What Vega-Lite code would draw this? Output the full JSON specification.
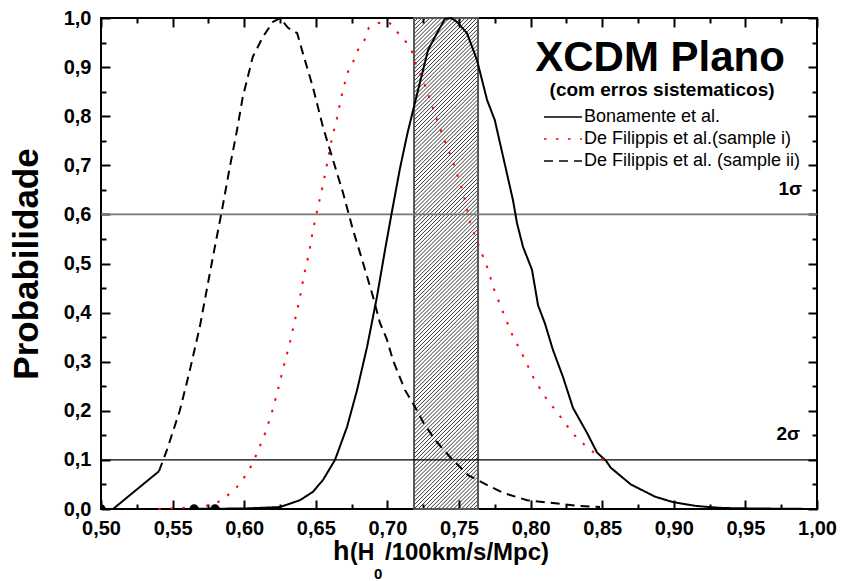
{
  "$schema": "https://vega.github.io/schema/vega-lite/v6.json",
  "width": 716,
  "height": 491,
  "autosize": {"type": "none"},
  "padding": {"left": 101, "top": 18, "right": 25, "bottom": 72},
  "background": "white",
  "config": {
    "view": {"stroke": "black", "strokeWidth": 2},
    "font": "Liberation Sans",
    "axis": {"grid": false, "domain": false, "ticks": true, "tickColor": "black", "tickOpacity": 1, "tickWidth": 2, "labelFont": "Liberation Sans", "labelFontWeight": "bold", "labelFontSize": 20, "labelColor": "black", "titleColor": "black", "zindex": 2}
  },
  "datasets": {
    "curves": [
      {"h": 0.55, "p": 0, "s": "Bonamente et al."},
      {"h": 0.60, "p": 0.001, "s": "Bonamente et al."},
      {"h": 0.625, "p": 0.004, "s": "Bonamente et al."},
      {"h": 0.639, "p": 0.018, "s": "Bonamente et al."},
      {"h": 0.648, "p": 0.035, "s": "Bonamente et al."},
      {"h": 0.655, "p": 0.059, "s": "Bonamente et al."},
      {"h": 0.6634, "p": 0.1, "s": "Bonamente et al."},
      {"h": 0.6718, "p": 0.167, "s": "Bonamente et al."},
      {"h": 0.6788, "p": 0.242, "s": "Bonamente et al."},
      {"h": 0.6858, "p": 0.33, "s": "Bonamente et al."},
      {"h": 0.6927, "p": 0.432, "s": "Bonamente et al."},
      {"h": 0.6983, "p": 0.527, "s": "Bonamente et al."},
      {"h": 0.703, "p": 0.603, "s": "Bonamente et al."},
      {"h": 0.7088, "p": 0.694, "s": "Bonamente et al."},
      {"h": 0.714, "p": 0.765, "s": "Bonamente et al."},
      {"h": 0.718, "p": 0.813, "s": "Bonamente et al."},
      {"h": 0.7214, "p": 0.853, "s": "Bonamente et al."},
      {"h": 0.7284, "p": 0.935, "s": "Bonamente et al."},
      {"h": 0.7346, "p": 0.969, "s": "Bonamente et al."},
      {"h": 0.7402, "p": 0.998, "s": "Bonamente et al."},
      {"h": 0.7445, "p": 1.0, "s": "Bonamente et al."},
      {"h": 0.7486, "p": 0.992, "s": "Bonamente et al."},
      {"h": 0.7556, "p": 0.969, "s": "Bonamente et al."},
      {"h": 0.7626, "p": 0.914, "s": "Bonamente et al."},
      {"h": 0.7696, "p": 0.833, "s": "Bonamente et al."},
      {"h": 0.775, "p": 0.792, "s": "Bonamente et al."},
      {"h": 0.7877, "p": 0.629, "s": "Bonamente et al."},
      {"h": 0.7905, "p": 0.582, "s": "Bonamente et al."},
      {"h": 0.7947, "p": 0.534, "s": "Bonamente et al."},
      {"h": 0.801, "p": 0.487, "s": "Bonamente et al."},
      {"h": 0.8052, "p": 0.415, "s": "Bonamente et al."},
      {"h": 0.810, "p": 0.378, "s": "Bonamente et al."},
      {"h": 0.8156, "p": 0.324, "s": "Bonamente et al."},
      {"h": 0.8226, "p": 0.269, "s": "Bonamente et al."},
      {"h": 0.8296, "p": 0.206, "s": "Bonamente et al."},
      {"h": 0.8394, "p": 0.155, "s": "Bonamente et al."},
      {"h": 0.8464, "p": 0.115, "s": "Bonamente et al."},
      {"h": 0.8527, "p": 0.098, "s": "Bonamente et al."},
      {"h": 0.856, "p": 0.084, "s": "Bonamente et al."},
      {"h": 0.870, "p": 0.05, "s": "Bonamente et al."},
      {"h": 0.887, "p": 0.025, "s": "Bonamente et al."},
      {"h": 0.8994, "p": 0.014, "s": "Bonamente et al."},
      {"h": 0.916, "p": 0.006, "s": "Bonamente et al."},
      {"h": 0.934, "p": 0.002, "s": "Bonamente et al."},
      {"h": 0.958, "p": 0.001, "s": "Bonamente et al."},
      {"h": 1.0, "p": 0, "s": "Bonamente et al."},
      {"h": 0.54, "p": 0, "s": "De Filippis et al.(sample i)"},
      {"h": 0.556, "p": 0.002, "s": "De Filippis et al.(sample i)"},
      {"h": 0.571, "p": 0.005, "s": "De Filippis et al.(sample i)"},
      {"h": 0.5796, "p": 0.01, "s": "De Filippis et al.(sample i)"},
      {"h": 0.587, "p": 0.024, "s": "De Filippis et al.(sample i)"},
      {"h": 0.595, "p": 0.045, "s": "De Filippis et al.(sample i)"},
      {"h": 0.6006, "p": 0.067, "s": "De Filippis et al.(sample i)"},
      {"h": 0.6054, "p": 0.09, "s": "De Filippis et al.(sample i)"},
      {"h": 0.609, "p": 0.114, "s": "De Filippis et al.(sample i)"},
      {"h": 0.615, "p": 0.157, "s": "De Filippis et al.(sample i)"},
      {"h": 0.620, "p": 0.203, "s": "De Filippis et al.(sample i)"},
      {"h": 0.624, "p": 0.248, "s": "De Filippis et al.(sample i)"},
      {"h": 0.628, "p": 0.295, "s": "De Filippis et al.(sample i)"},
      {"h": 0.632, "p": 0.340, "s": "De Filippis et al.(sample i)"},
      {"h": 0.6355, "p": 0.385, "s": "De Filippis et al.(sample i)"},
      {"h": 0.639, "p": 0.432, "s": "De Filippis et al.(sample i)"},
      {"h": 0.6418, "p": 0.477, "s": "De Filippis et al.(sample i)"},
      {"h": 0.6453, "p": 0.521, "s": "De Filippis et al.(sample i)"},
      {"h": 0.648, "p": 0.568, "s": "De Filippis et al.(sample i)"},
      {"h": 0.6515, "p": 0.615, "s": "De Filippis et al.(sample i)"},
      {"h": 0.655, "p": 0.66, "s": "De Filippis et al.(sample i)"},
      {"h": 0.658, "p": 0.705, "s": "De Filippis et al.(sample i)"},
      {"h": 0.661, "p": 0.751, "s": "De Filippis et al.(sample i)"},
      {"h": 0.6648, "p": 0.796, "s": "De Filippis et al.(sample i)"},
      {"h": 0.668, "p": 0.841, "s": "De Filippis et al.(sample i)"},
      {"h": 0.672, "p": 0.888, "s": "De Filippis et al.(sample i)"},
      {"h": 0.676, "p": 0.91, "s": "De Filippis et al.(sample i)"},
      {"h": 0.679, "p": 0.933, "s": "De Filippis et al.(sample i)"},
      {"h": 0.684, "p": 0.955, "s": "De Filippis et al.(sample i)"},
      {"h": 0.687, "p": 0.98, "s": "De Filippis et al.(sample i)"},
      {"h": 0.694, "p": 0.99, "s": "De Filippis et al.(sample i)"},
      {"h": 0.701, "p": 0.992, "s": "De Filippis et al.(sample i)"},
      {"h": 0.707, "p": 0.971, "s": "De Filippis et al.(sample i)"},
      {"h": 0.7137, "p": 0.949, "s": "De Filippis et al.(sample i)"},
      {"h": 0.7178, "p": 0.928, "s": "De Filippis et al.(sample i)"},
      {"h": 0.72, "p": 0.904, "s": "De Filippis et al.(sample i)"},
      {"h": 0.724, "p": 0.88, "s": "De Filippis et al.(sample i)"},
      {"h": 0.7297, "p": 0.835, "s": "De Filippis et al.(sample i)"},
      {"h": 0.735, "p": 0.789, "s": "De Filippis et al.(sample i)"},
      {"h": 0.741, "p": 0.743, "s": "De Filippis et al.(sample i)"},
      {"h": 0.747, "p": 0.697, "s": "De Filippis et al.(sample i)"},
      {"h": 0.7528, "p": 0.645, "s": "De Filippis et al.(sample i)"},
      {"h": 0.7577, "p": 0.584, "s": "De Filippis et al.(sample i)"},
      {"h": 0.7633, "p": 0.54, "s": "De Filippis et al.(sample i)"},
      {"h": 0.7696, "p": 0.493, "s": "De Filippis et al.(sample i)"},
      {"h": 0.7744, "p": 0.448, "s": "De Filippis et al.(sample i)"},
      {"h": 0.7807, "p": 0.401, "s": "De Filippis et al.(sample i)"},
      {"h": 0.787, "p": 0.356, "s": "De Filippis et al.(sample i)"},
      {"h": 0.7947, "p": 0.312, "s": "De Filippis et al.(sample i)"},
      {"h": 0.8024, "p": 0.265, "s": "De Filippis et al.(sample i)"},
      {"h": 0.812, "p": 0.22, "s": "De Filippis et al.(sample i)"},
      {"h": 0.8184, "p": 0.198, "s": "De Filippis et al.(sample i)"},
      {"h": 0.824, "p": 0.175, "s": "De Filippis et al.(sample i)"},
      {"h": 0.830, "p": 0.152, "s": "De Filippis et al.(sample i)"},
      {"h": 0.8387, "p": 0.128, "s": "De Filippis et al.(sample i)"},
      {"h": 0.8464, "p": 0.11, "s": "De Filippis et al.(sample i)"},
      {"h": 0.851, "p": 0.1, "s": "De Filippis et al.(sample i)"},
      {"h": 0.5405, "p": 0.077, "s": "De Filippis et al. (sample ii)"},
      {"h": 0.546, "p": 0.12, "s": "De Filippis et al. (sample ii)"},
      {"h": 0.555, "p": 0.20, "s": "De Filippis et al. (sample ii)"},
      {"h": 0.5616, "p": 0.277, "s": "De Filippis et al. (sample ii)"},
      {"h": 0.569, "p": 0.371, "s": "De Filippis et al. (sample ii)"},
      {"h": 0.578, "p": 0.511, "s": "De Filippis et al. (sample ii)"},
      {"h": 0.5845, "p": 0.609, "s": "De Filippis et al. (sample ii)"},
      {"h": 0.590, "p": 0.697, "s": "De Filippis et al. (sample ii)"},
      {"h": 0.595, "p": 0.772, "s": "De Filippis et al. (sample ii)"},
      {"h": 0.599, "p": 0.839, "s": "De Filippis et al. (sample ii)"},
      {"h": 0.606, "p": 0.921, "s": "De Filippis et al. (sample ii)"},
      {"h": 0.613, "p": 0.961, "s": "De Filippis et al. (sample ii)"},
      {"h": 0.620, "p": 0.992, "s": "De Filippis et al. (sample ii)"},
      {"h": 0.625, "p": 1.0, "s": "De Filippis et al. (sample ii)"},
      {"h": 0.6306, "p": 0.98, "s": "De Filippis et al. (sample ii)"},
      {"h": 0.637, "p": 0.969, "s": "De Filippis et al. (sample ii)"},
      {"h": 0.641, "p": 0.928, "s": "De Filippis et al. (sample ii)"},
      {"h": 0.648, "p": 0.859, "s": "De Filippis et al. (sample ii)"},
      {"h": 0.655, "p": 0.778, "s": "De Filippis et al. (sample ii)"},
      {"h": 0.662, "p": 0.711, "s": "De Filippis et al. (sample ii)"},
      {"h": 0.669, "p": 0.644, "s": "De Filippis et al. (sample ii)"},
      {"h": 0.676, "p": 0.568, "s": "De Filippis et al. (sample ii)"},
      {"h": 0.682, "p": 0.511, "s": "De Filippis et al. (sample ii)"},
      {"h": 0.690, "p": 0.432, "s": "De Filippis et al. (sample ii)"},
      {"h": 0.6948, "p": 0.379, "s": "De Filippis et al. (sample ii)"},
      {"h": 0.6997, "p": 0.345, "s": "De Filippis et al. (sample ii)"},
      {"h": 0.7039, "p": 0.303, "s": "De Filippis et al. (sample ii)"},
      {"h": 0.7123, "p": 0.242, "s": "De Filippis et al. (sample ii)"},
      {"h": 0.7193, "p": 0.208, "s": "De Filippis et al. (sample ii)"},
      {"h": 0.7249, "p": 0.177, "s": "De Filippis et al. (sample ii)"},
      {"h": 0.7332, "p": 0.141, "s": "De Filippis et al. (sample ii)"},
      {"h": 0.7437, "p": 0.106, "s": "De Filippis et al. (sample ii)"},
      {"h": 0.7563, "p": 0.069, "s": "De Filippis et al. (sample ii)"},
      {"h": 0.7668, "p": 0.053, "s": "De Filippis et al. (sample ii)"},
      {"h": 0.7807, "p": 0.033, "s": "De Filippis et al. (sample ii)"},
      {"h": 0.7975, "p": 0.018, "s": "De Filippis et al. (sample ii)"},
      {"h": 0.8156, "p": 0.012, "s": "De Filippis et al. (sample ii)"},
      {"h": 0.8345, "p": 0.006, "s": "De Filippis et al. (sample ii)"},
      {"h": 0.8485, "p": 0.004, "s": "De Filippis et al. (sample ii)"}
    ],
    "seg": [{"h": 0.5084, "p": 0}, {"h": 0.5405, "p": 0.077}],
    "dots": [{"h": 0.5}, {"h": 0.565}, {"h": 0.5796}],
    "hatch": [
      {"a":-0.128,"b":0.002},{"a":-0.12,"b":0.01},{"a":-0.112,"b":0.018},{"a":-0.104,"b":0.026},{"a":-0.096,"b":0.034},{"a":-0.088,"b":0.042},{"a":-0.08,"b":0.05},{"a":-0.072,"b":0.058},{"a":-0.064,"b":0.066},{"a":-0.056,"b":0.074},{"a":-0.048,"b":0.082},{"a":-0.04,"b":0.09},{"a":-0.032,"b":0.098},{"a":-0.024,"b":0.106},{"a":-0.016,"b":0.114},{"a":-0.008,"b":0.122},
      {"a":0,"b":0.13},{"a":0.008,"b":0.138},{"a":0.016,"b":0.146},{"a":0.024,"b":0.154},{"a":0.032,"b":0.162},{"a":0.04,"b":0.17},{"a":0.048,"b":0.178},{"a":0.056,"b":0.186},{"a":0.064,"b":0.194},{"a":0.072,"b":0.202},{"a":0.08,"b":0.21},{"a":0.088,"b":0.218},{"a":0.096,"b":0.226},{"a":0.104,"b":0.234},{"a":0.112,"b":0.242},{"a":0.12,"b":0.25},
      {"a":0.128,"b":0.258},{"a":0.136,"b":0.266},{"a":0.144,"b":0.274},{"a":0.152,"b":0.282},{"a":0.16,"b":0.29},{"a":0.168,"b":0.298},{"a":0.176,"b":0.306},{"a":0.184,"b":0.314},{"a":0.192,"b":0.322},{"a":0.2,"b":0.33},{"a":0.208,"b":0.338},{"a":0.216,"b":0.346},{"a":0.224,"b":0.354},{"a":0.232,"b":0.362},{"a":0.24,"b":0.37},{"a":0.248,"b":0.378},
      {"a":0.256,"b":0.386},{"a":0.264,"b":0.394},{"a":0.272,"b":0.402},{"a":0.28,"b":0.41},{"a":0.288,"b":0.418},{"a":0.296,"b":0.426},{"a":0.304,"b":0.434},{"a":0.312,"b":0.442},{"a":0.32,"b":0.45},{"a":0.328,"b":0.458},{"a":0.336,"b":0.466},{"a":0.344,"b":0.474},{"a":0.352,"b":0.482},{"a":0.36,"b":0.49},{"a":0.368,"b":0.498},{"a":0.376,"b":0.506},
      {"a":0.384,"b":0.514},{"a":0.392,"b":0.522},{"a":0.4,"b":0.53},{"a":0.408,"b":0.538},{"a":0.416,"b":0.546},{"a":0.424,"b":0.554},{"a":0.432,"b":0.562},{"a":0.44,"b":0.57},{"a":0.448,"b":0.578},{"a":0.456,"b":0.586},{"a":0.464,"b":0.594},{"a":0.472,"b":0.602},{"a":0.48,"b":0.61},{"a":0.488,"b":0.618},{"a":0.496,"b":0.626},{"a":0.504,"b":0.634},
      {"a":0.512,"b":0.642},{"a":0.52,"b":0.65},{"a":0.528,"b":0.658},{"a":0.536,"b":0.666},{"a":0.544,"b":0.674},{"a":0.552,"b":0.682},{"a":0.56,"b":0.69},{"a":0.568,"b":0.698},{"a":0.576,"b":0.706},{"a":0.584,"b":0.714},{"a":0.592,"b":0.722},{"a":0.6,"b":0.73},{"a":0.608,"b":0.738},{"a":0.616,"b":0.746},{"a":0.624,"b":0.754},{"a":0.632,"b":0.762},
      {"a":0.64,"b":0.77},{"a":0.648,"b":0.778},{"a":0.656,"b":0.786},{"a":0.664,"b":0.794},{"a":0.672,"b":0.802},{"a":0.68,"b":0.81},{"a":0.688,"b":0.818},{"a":0.696,"b":0.826},{"a":0.704,"b":0.834},{"a":0.712,"b":0.842},{"a":0.72,"b":0.85},{"a":0.728,"b":0.858},{"a":0.736,"b":0.866},{"a":0.744,"b":0.874},{"a":0.752,"b":0.882},{"a":0.76,"b":0.89},
      {"a":0.768,"b":0.898},{"a":0.776,"b":0.906},{"a":0.784,"b":0.914},{"a":0.792,"b":0.922},{"a":0.8,"b":0.93},{"a":0.808,"b":0.938},{"a":0.816,"b":0.946},{"a":0.824,"b":0.954},{"a":0.832,"b":0.962},{"a":0.84,"b":0.97},{"a":0.848,"b":0.978},{"a":0.856,"b":0.986},{"a":0.864,"b":0.994},{"a":0.872,"b":1.002},{"a":0.88,"b":1.01},{"a":0.888,"b":1.018},
      {"a":0.896,"b":1.026},{"a":0.904,"b":1.034},{"a":0.912,"b":1.042},{"a":0.92,"b":1.05},{"a":0.928,"b":1.058},{"a":0.936,"b":1.066},{"a":0.944,"b":1.074},{"a":0.952,"b":1.082},{"a":0.96,"b":1.09},{"a":0.968,"b":1.098},{"a":0.976,"b":1.106},{"a":0.984,"b":1.114},{"a":0.992,"b":1.122},{"a":1.0,"b":1.13}
    ]
  },
  "resolve": {"axis": {"x": "independent", "y": "independent"}},
  "layer": [
    {
      "data": {"name": "hatch"},
      "mark": {"type": "rule", "clip": true, "stroke": "black", "strokeWidth": 0.8},
      "encoding": {
        "x": {"datum": 0.7186, "type": "quantitative", "scale": {"domain": [0.5, 1], "nice": false, "zero": false},
              "axis": {"orient": "top", "values": [0.525,0.575,0.625,0.675,0.725,0.775,0.825,0.875,0.925,0.975], "tickSize": -5, "labels": false, "title": null}},
        "x2": {"datum": 0.7633},
        "y": {"field": "a", "type": "quantitative", "scale": {"domain": [0, 1], "nice": false, "zero": false},
              "axis": {"orient": "right", "values": [0.05,0.15,0.25,0.35,0.45,0.55,0.65,0.75,0.85,0.95], "tickSize": -5, "labels": false, "title": null}},
        "y2": {"field": "b"}
      }
    },
    {
      "data": {"values": [{}]},
      "mark": {"type": "rect", "fill": "transparent", "stroke": "#555555", "strokeWidth": 2},
      "encoding": {
        "x": {"datum": 0.7186, "type": "quantitative", "scale": {"domain": [0.5, 1], "nice": false, "zero": false},
              "axis": {"orient": "top", "values": [0.5,0.55,0.6,0.65,0.7,0.75,0.8,0.85,0.9,0.95,1.0], "tickSize": -9, "labels": false, "title": null}},
        "x2": {"datum": 0.7633},
        "y": {"datum": 0, "type": "quantitative", "scale": {"domain": [0, 1], "nice": false, "zero": false},
              "axis": {"orient": "right", "values": [0,0.1,0.2,0.3,0.4,0.5,0.6,0.7,0.8,0.9,1.0], "tickSize": -9, "labels": false, "title": null}},
        "y2": {"datum": 1}
      }
    },
    {
      "data": {"values": [{}]},
      "mark": {"type": "rule", "stroke": "#777777", "strokeWidth": 1.6},
      "encoding": {"y": {"datum": 0.6, "type": "quantitative", "scale": {"domain": [0, 1], "nice": false, "zero": false}, "axis": null}}
    },
    {
      "data": {"values": [{}]},
      "mark": {"type": "rule", "stroke": "black", "strokeWidth": 1.2},
      "encoding": {"y": {"datum": 0.1, "type": "quantitative", "scale": {"domain": [0, 1], "nice": false, "zero": false}, "axis": null}}
    },
    {
      "data": {"name": "seg"},
      "mark": {"type": "line", "stroke": "black", "strokeWidth": 2},
      "encoding": {
        "x": {"field": "h", "type": "quantitative", "scale": {"domain": [0.5, 1], "nice": false, "zero": false}, "axis": null},
        "y": {"field": "p", "type": "quantitative", "scale": {"domain": [0, 1], "nice": false, "zero": false}, "axis": null}
      }
    },
    {
      "data": {"name": "curves"},
      "mark": {"type": "line", "strokeWidth": 2},
      "encoding": {
        "x": {"field": "h", "type": "quantitative", "scale": {"domain": [0.5, 1], "nice": false, "zero": false},
              "axis": {"orient": "bottom", "values": [0.5,0.55,0.6,0.65,0.7,0.75,0.8,0.85,0.9,0.95,1.0], "offset": -9, "tickSize": 9, "labelPadding": 9, "labelExpr": "replace(format(datum.value, '.2f'), '.', ',')", "labelFlush": false, "labelOverlap": false, "title": null}},
        "y": {"field": "p", "type": "quantitative", "scale": {"domain": [0, 1], "nice": false, "zero": false},
              "axis": {"orient": "left", "values": [0,0.1,0.2,0.3,0.4,0.5,0.6,0.7,0.8,0.9,1.0], "offset": -9, "tickSize": 9, "labelPadding": 10, "labelExpr": "replace(format(datum.value, '.1f'), '.', ',')", "labelFlush": false, "labelOverlap": false,
                       "title": "Probabilidade", "titleFont": "Liberation Sans", "titleFontSize": 35, "titleFontWeight": "bold", "titlePadding": 19}},
        "color": {"field": "s", "type": "nominal",
                  "scale": {"domain": ["Bonamente et al.", "De Filippis et al.(sample i)", "De Filippis et al. (sample ii)"], "range": ["black", "#ff0000", "black"]},
                  "legend": {"orient": "none", "legendX": 453, "legendY": 90, "title": null, "symbolType": "M-4,0H4", "symbolSize": 90, "symbolStrokeWidth": 1.5, "labelFont": "Liberation Sans", "labelFontSize": 18, "labelColor": "black", "labelOffset": 12, "rowPadding": 4, "padding": 0, "labelLimit": 400}},
        "strokeDash": {"field": "s", "type": "nominal",
                  "scale": {"domain": ["Bonamente et al.", "De Filippis et al.(sample i)", "De Filippis et al. (sample ii)"], "range": [[1, 0], [2.5, 9.5], [9, 6]]},
                  "legend": {"orient": "none", "legendX": 453, "legendY": 90, "title": null, "symbolType": "M-4,0H4", "symbolSize": 90, "symbolStrokeWidth": 1.5, "labelFont": "Liberation Sans", "labelFontSize": 18, "labelColor": "black", "labelOffset": 12, "rowPadding": 4, "padding": 0, "labelLimit": 400}}
      }
    },
    {
      "data": {"name": "dots"},
      "mark": {"type": "point", "filled": true, "color": "black", "opacity": 1, "size": 90, "clip": true},
      "encoding": {
        "x": {"field": "h", "type": "quantitative", "scale": {"domain": [0.5, 1], "nice": false, "zero": false},
              "axis": {"orient": "bottom", "values": [0.525,0.575,0.625,0.675,0.725,0.775,0.825,0.875,0.925,0.975], "tickSize": -5, "labels": false, "title": null}},
        "y": {"datum": 0, "type": "quantitative", "scale": {"domain": [0, 1], "nice": false, "zero": false},
              "axis": {"orient": "left", "values": [0.05,0.15,0.25,0.35,0.45,0.55,0.65,0.75,0.85,0.95], "tickSize": -5, "labels": false, "title": null}}
      }
    },
    {
      "data": {"values": [{}]},
      "mark": {"type": "text", "text": "XCDM Plano", "font": "Liberation Sans", "fontSize": 42, "fontWeight": "bold", "align": "center", "baseline": "alphabetic", "color": "black"},
      "encoding": {
        "x": {"datum": 0.8904, "type": "quantitative", "scale": {"domain": [0.5, 1], "nice": false, "zero": false}, "axis": null},
        "y": {"datum": 0.892, "type": "quantitative", "scale": {"domain": [0, 1], "nice": false, "zero": false}, "axis": null}
      }
    },
    {
      "data": {"values": [{}]},
      "mark": {"type": "text", "text": "(com erros sistematicos)", "font": "Liberation Sans", "fontSize": 19, "fontWeight": "bold", "align": "center", "baseline": "alphabetic", "color": "black"},
      "encoding": {
        "x": {"datum": 0.8918, "type": "quantitative", "scale": {"domain": [0.5, 1], "nice": false, "zero": false}, "axis": null},
        "y": {"datum": 0.842, "type": "quantitative", "scale": {"domain": [0, 1], "nice": false, "zero": false}, "axis": null}
      }
    },
    {
      "data": {"values": [{}]},
      "mark": {"type": "text", "text": "1σ", "font": "Liberation Sans", "fontSize": 19, "fontWeight": "bold", "align": "right", "baseline": "alphabetic", "color": "black"},
      "encoding": {
        "x": {"datum": 0.9895, "type": "quantitative", "scale": {"domain": [0.5, 1], "nice": false, "zero": false}, "axis": null},
        "y": {"datum": 0.6395, "type": "quantitative", "scale": {"domain": [0, 1], "nice": false, "zero": false}, "axis": null}
      }
    },
    {
      "data": {"values": [{}]},
      "mark": {"type": "text", "text": "2σ", "font": "Liberation Sans", "fontSize": 19, "fontWeight": "bold", "align": "right", "baseline": "alphabetic", "color": "black"},
      "encoding": {
        "x": {"datum": 0.9881, "type": "quantitative", "scale": {"domain": [0.5, 1], "nice": false, "zero": false}, "axis": null},
        "y": {"datum": 0.1405, "type": "quantitative", "scale": {"domain": [0, 1], "nice": false, "zero": false}, "axis": null}
      }
    },
    {
      "data": {"values": [{}]},
      "mark": {"type": "text", "text": "h", "font": "Liberation Sans", "fontSize": 27, "fontWeight": "bold", "align": "left", "baseline": "alphabetic", "color": "black"},
      "encoding": {
        "x": {"datum": 0.662, "type": "quantitative", "scale": {"domain": [0.5, 1], "nice": false, "zero": false}, "axis": null},
        "y": {"datum": -0.104, "type": "quantitative", "scale": {"domain": [0, 1], "nice": false, "zero": false}, "axis": null}
      }
    },
    {
      "data": {"values": [{}]},
      "mark": {"type": "text", "text": "(H", "font": "Liberation Sans", "fontSize": 23, "fontWeight": "bold", "align": "left", "baseline": "alphabetic", "color": "black"},
      "encoding": {
        "x": {"datum": 0.6739, "type": "quantitative", "scale": {"domain": [0.5, 1], "nice": false, "zero": false}, "axis": null},
        "y": {"datum": -0.104, "type": "quantitative", "scale": {"domain": [0, 1], "nice": false, "zero": false}, "axis": null}
      }
    },
    {
      "data": {"values": [{}]},
      "mark": {"type": "text", "text": "0", "font": "Liberation Sans", "fontSize": 15, "fontWeight": "bold", "align": "left", "baseline": "alphabetic", "color": "black"},
      "encoding": {
        "x": {"datum": 0.6906, "type": "quantitative", "scale": {"domain": [0.5, 1], "nice": false, "zero": false}, "axis": null},
        "y": {"datum": -0.1426, "type": "quantitative", "scale": {"domain": [0, 1], "nice": false, "zero": false}, "axis": null}
      }
    },
    {
      "data": {"values": [{}]},
      "mark": {"type": "text", "text": "/100km/s/Mpc)", "font": "Liberation Sans", "fontSize": 24, "fontWeight": "bold", "align": "left", "baseline": "alphabetic", "color": "black"},
      "encoding": {
        "x": {"datum": 0.6983, "type": "quantitative", "scale": {"domain": [0.5, 1], "nice": false, "zero": false}, "axis": null},
        "y": {"datum": -0.104, "type": "quantitative", "scale": {"domain": [0, 1], "nice": false, "zero": false}, "axis": null}
      }
    }
  ]
}
